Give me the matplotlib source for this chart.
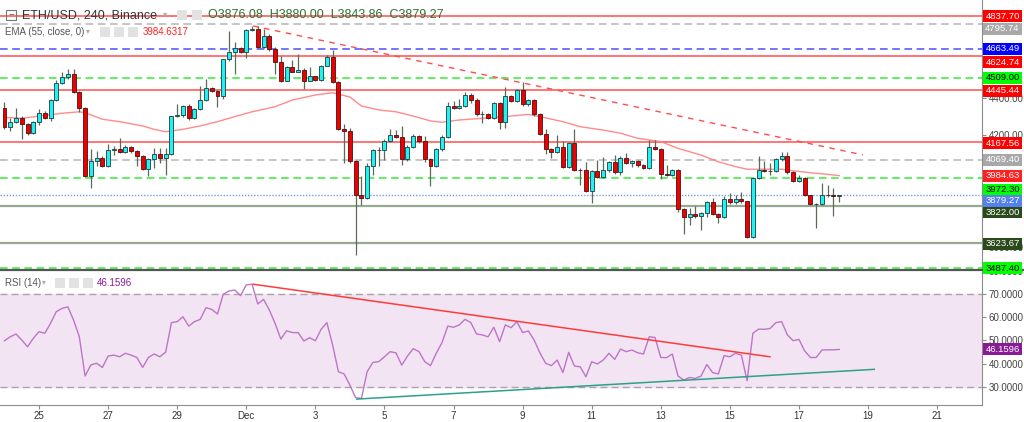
import numpy as np
import matplotlib
matplotlib.use('Agg')
import matplotlib.pyplot as plt
from matplotlib.patches import Rectangle
from matplotlib.lines import Line2D

plt.rcParams['font.family'] = ['Liberation Sans', 'DejaVu Sans']

# ETH/USD 4h candles, first candle opens Nov 24 00:00
first_open = 4344.8
close = [4247.7, 4272.9, 4296.3, 4260.3, 4215.3, 4272.9, 4317.9, 4296.3, 4391.6, 4479.8,
         4512.1, 4528.3, 4434.8, 4344.8, 3981.5, 4062.5, 4080.4, 4035.5, 4120.0, 4125.0,
         4111.0, 4138.0, 4116.0, 4089.0, 4021.0, 4071.5, 4098.5, 4080.0, 4102.0, 4301.7,
         4309.0, 4355.6, 4296.3, 4341.3, 4391.6, 4452.8, 4440.2, 4413.0, 4607.5, 4647.0,
         4668.6, 4647.0, 4767.5, 4769.3, 4674.0, 4733.4, 4665.0, 4593.0, 4494.0, 4566.0,
         4542.7, 4553.5, 4494.0, 4517.5, 4499.5, 4575.0, 4620.0, 4485.0, 4235.0, 4224.0,
         4062.5, 3882.6, 3864.7, 4039.0, 4122.0, 4122.0, 4170.4, 4201.0, 4193.8, 4071.5,
         4139.8, 4197.4, 4170.4, 4075.0, 4039.0, 4125.5, 4193.8, 4355.7, 4348.5, 4359.3,
         4416.8, 4391.7, 4314.3, 4314.3, 4296.3, 4373.7, 4273.0, 4409.6, 4386.3, 4443.8,
         4368.3, 4391.7, 4314.3, 4206.4, 4129.1, 4111.1, 4139.8, 4031.9, 4157.8, 4017.5,
         4014.0, 3900.6, 4008.5, 3978.0, 4014.0, 4057.1, 4003.1, 4080.5, 4053.5, 4062.5,
         4039.1, 4026.5, 4139.8, 4129.1, 3996.0, 3990.5, 4014.0, 3805.2, 3762.0, 3778.0,
         3769.2, 3783.6, 3841.2, 3780.0, 3765.6, 3859.2, 3841.2, 3859.2, 3846.6, 3654.1,
         3972.5, 4017.5, 4010.0, 4010.0, 4071.4, 4089.4, 4003.1, 3958.1, 3972.5, 3882.6,
         3834.0, 3834.0, 3882.6, 3880.0, 3876.08, 3879.27]
high = [4377, 4294, 4345, 4305, 4265, 4280, 4341, 4332, 4396, 4497,
        4539, 4557, 4557, 4440, 4350, 4125, 4116, 4090, 4155, 4143,
        4188, 4150, 4145, 4120, 4098, 4080, 4134, 4134, 4134, 4305,
        4368, 4362, 4368, 4348, 4467, 4503, 4458, 4445, 4612, 4759,
        4701, 4673, 4772, 4787, 4787, 4773, 4746, 4672, 4625, 4575,
        4602, 4638, 4560, 4566, 4521, 4580, 4629, 4656, 4490, 4260,
        4242, 4070, 3982, 4050, 4130, 4140, 4180, 4237, 4230, 4251,
        4148, 4206, 4205, 4197, 4080, 4135, 4200, 4381, 4386, 4395,
        4431, 4426, 4400, 4332, 4322, 4380, 4380, 4458, 4415, 4450,
        4489, 4398, 4395, 4320, 4233, 4135, 4201, 4170, 4165, 4233,
        4025, 4060, 4015, 4071, 4085, 4065, 4098, 4088, 4107, 4070,
        4068, 4045, 4176, 4176, 4135, 4040, 4020, 4020, 3810, 3811,
        3820, 3790, 3848, 3865, 3786, 3877, 3892, 3882, 3895, 3850,
        3978, 4089, 4062, 4053, 4078, 4111, 4111, 4010, 3990, 3978,
        3882, 3840, 3945, 3936, 3918, 3880.0]
low = [4233, 4224, 4265, 4179, 4205, 4206, 4255, 4288, 4278, 4385,
       4475, 4505, 4425, 4327, 3978, 3919, 4035, 4030, 4030, 4097,
       4105, 4105, 4105, 4035, 4015, 3981, 4026, 4053, 3990, 4098,
       4298, 4300, 4285, 4290, 4335, 4385, 4432, 4355, 4395, 4600,
       4530, 4640, 4614, 4760, 4668, 4670, 4655, 4530, 4488, 4490,
       4538, 4538, 4449, 4490, 4490, 4494, 4570, 4480, 4228, 4053,
       4055, 3559, 3829, 3860, 3990, 4039, 4071, 4165, 4188, 4040,
       4065, 4133, 4160, 4060, 3928, 4030, 4118, 4185, 4340, 4340,
       4350, 4375, 4305, 4269, 4288, 4290, 4235, 4242, 4378, 4380,
       4360, 4360, 4305, 4200, 4099, 4080, 4105, 4025, 4025, 4010,
       3936, 3895, 3838, 3970, 3970, 4005, 3995, 3990, 4045, 4030,
       4030, 4020, 4020, 4120, 3967, 3985, 3985, 3790, 3672, 3720,
       3760, 3694, 3762, 3772, 3730, 3760, 3835, 3835, 3840, 3650,
       3648, 3965, 4003, 3990, 4003, 4065, 3995, 3950, 3950, 3875,
       3828, 3703, 3828, 3870, 3769, 3843.86]

# EMA(55): (candle index, value)
ema_idx = [0, 3, 5, 10, 13, 14, 17, 20, 24, 26, 28, 31, 34, 37, 40, 43, 47, 50, 54, 57,
           60, 62, 65, 68, 71, 74, 76, 79, 83, 87, 91, 93, 97, 100, 104, 107, 110, 114,
           117, 121, 124, 127, 129, 132, 135, 137, 140, 143, 145]
ema_val = [4297, 4292, 4300, 4319, 4327, 4322, 4287, 4274, 4251, 4233, 4220, 4233, 4251,
           4274, 4301, 4327, 4354, 4390, 4417, 4429, 4406, 4358, 4337, 4327, 4304, 4278,
           4271, 4283, 4292, 4301, 4313, 4301, 4274, 4247, 4229, 4212, 4185, 4167, 4131,
           4095, 4059, 4033, 4019, 4019, 4019, 4011, 4000, 3992, 3984.63]

# RSI(14), one value per candle
rsi = [49.9, 51.6, 52.8, 50.2, 47.3, 50.9, 53.8, 53.1, 57.4, 62.4, 63.8, 64.5, 58.8, 51.6,
       34.7, 39.5, 40.2, 38.4, 43.3, 43.7, 43.0, 44.5, 43.7, 42.7, 38.4, 42.7, 44.2, 43.0,
       45.0, 57.7, 58.1, 60.2, 56.2, 58.1, 59.1, 64.1, 63.4, 61.4, 69.9, 71.3, 71.7, 69.3,
       73.9, 74.2, 65.7, 67.7, 63.1, 57.4, 50.6, 54.2, 53.4, 53.4, 49.8, 51.2, 49.9, 54.8,
       57.7, 48.1, 36.6, 35.6, 30.8, 25.4, 25.1, 36.6, 40.6, 40.9, 43.0, 45.2, 44.7, 39.4,
       43.3, 46.5, 45.2, 40.9, 39.2, 44.5, 49.1, 56.2, 55.7, 56.7, 59.1, 57.7, 52.8, 52.4,
       51.6, 55.7, 49.5, 56.7, 55.5, 58.1, 53.4, 54.1, 50.2, 44.7, 40.2, 39.2, 41.6, 36.2,
       44.9, 39.0, 38.7, 34.4, 40.9, 39.9, 41.6, 44.5, 41.9, 46.3, 45.2, 45.9, 44.7, 44.2,
       51.6, 51.3, 42.7, 42.6, 44.2, 34.7, 33.0, 34.1, 33.7, 34.7, 39.7, 36.2, 35.6, 43.5,
       43.0, 44.5, 43.7, 32.7, 53.1, 54.9, 54.8, 55.2, 57.7, 58.1, 52.4, 49.9, 50.5, 45.5,
       42.7, 42.7, 45.9, 46.0, 46.0, 46.16]

# horizontal levels
red_levels = [4837.70, 4624.74, 4445.44, 4167.56]
grey_levels = [4795.74, 4069.40]
blue_levels = [4663.49]
green_levels = [4509.00, 3972.30, 3487.40]
support_levels = [3822.00, 3623.67]
last_price = 3879.27
ema_last = 3984.6317
rsi_last = 46.1596

# drawn trend lines (days from Nov 25, value)
price_trend = [(6.2, 4787.0), (23.85, 4096.0)]
rsi_trend_hi = [(6.2, 74.2), (21.16, 43.0)]
rsi_trend_lo = [(9.2, 24.8), (24.18, 37.6)]

day_ticks = list(range(0, 27, 2))
day_labels = ['25', '27', '29', 'Dec', '3', '5', '7', '9', '11', '13', '15', '17', '19', '21']

# ---------------------------------------------------------------
W, H = 1024, 422
fig = plt.figure(figsize=(W / 100, H / 100), dpi=100)
fig.patch.set_facecolor('white')

def fx(x):
    return x / W

def fy(y):
    return 1 - y / H

ax = fig.add_axes([0, fy(269), fx(982), 269 / H])
ax2 = fig.add_axes([0, fy(405), fx(982), (405 - 270) / H], sharex=ax)

n = len(close)
opens = np.array([first_open] + close[:-1])
closes = np.array(close)
t = -1 + np.arange(n) / 6.0   # days from Nov 25 00:00

up = closes >= opens
body_lo = np.minimum(opens, closes)
body_h = np.abs(closes - opens)

ax.vlines(t, low, high, color='#5b6b5b', lw=0.9, zorder=3)
ax.bar(t[up], body_h[up], bottom=body_lo[up], width=0.115, color='#1ff2f2',
       edgecolor='#1f3b3b', lw=0.6, zorder=4)
ax.bar(t[~up], body_h[~up], bottom=body_lo[~up], width=0.115, color='#ee0000',
       edgecolor='#4a1010', lw=0.6, zorder=4)

ax.plot(-1 + np.array(ema_idx) / 6.0, ema_val, color='#ff7f7f', lw=1.0, alpha=0.9, zorder=2)

for v in red_levels:
    ax.axhline(v, color='#ff5050', lw=1.1, zorder=1)
for v in grey_levels:
    ax.axhline(v, color='#b5b5b5', lw=1.1, ls=(0, (5, 3)), zorder=1)
for v in blue_levels:
    ax.axhline(v, color='#4d4dff', lw=1.1, ls=(0, (5, 3)), zorder=1)
for v in green_levels:
    ax.axhline(v, color='#33ee33', lw=1.1, ls=(0, (5, 3)), zorder=1)
for v in support_levels:
    ax.axhline(v, color='#97a893', lw=1.6, zorder=1)
ax.axhline(last_price, color='#7b9ae8', lw=1.0, ls=(0, (1, 1.2)), zorder=1)

(x0, y0), (x1, y1) = price_trend
ax.plot([x0, x1], [y0, y1], color='#ff4d4d', lw=1.0, ls=(0, (4, 4)), zorder=2)

ax.set_xlim(-1.13, 27.3)
ax.set_ylim(3484.3, 4926.1)
# ticks hidden behind the level tags in the original are left out
ax.set_yticks([3600, 4200, 4400])
ax.yaxis.set_major_formatter(plt.FormatStrFormatter('%.2f'))

# RSI panel
ax2.axhspan(30, 70, color='#f2e4f2', zorder=0)
ax2.axhline(70, color='#aaa3ad', lw=1.0, ls=(0, (5, 3)), zorder=1)
ax2.axhline(30, color='#aaa3ad', lw=1.0, ls=(0, (5, 3)), zorder=1)
ax2.plot(t, rsi, color='#be75c8', lw=1.0, zorder=3)
(x0, y0), (x1, y1) = rsi_trend_hi
ax2.plot([x0, x1], [y0, y1], color='#ff3b3b', lw=1.1, zorder=4)
(x0, y0), (x1, y1) = rsi_trend_lo
ax2.plot([x0, x1], [y0, y1], color='#2fa08a', lw=1.1, zorder=4)
ax2.set_ylim(22.26, 80.32)
ax2.set_yticks([30, 40, 50, 60, 70, 80])
ax2.yaxis.set_major_formatter(plt.FormatStrFormatter('%.4f'))
ax2.set_xticks(day_ticks)
ax2.set_xticklabels(day_labels)

for a in (ax, ax2):
    a.set_facecolor('white')
    for s in ('left', 'top', 'bottom'):
        a.spines[s].set_visible(False)
    a.spines['right'].set_color('#8c8c8c')
    a.yaxis.tick_right()
    a.tick_params(axis='y', colors='#8c8c8c', labelcolor='#444444', labelsize=7,
                  length=3, pad=2)
ax.tick_params(axis='x', bottom=False, labelbottom=False)
ax2.spines['bottom'].set_visible(True)
ax2.spines['bottom'].set_color('#8c8c8c')
ax2.tick_params(axis='x', colors='#8c8c8c', labelcolor='#333333', labelsize=7, length=3, pad=1.5)

# separator between panes
fig.add_artist(Line2D([0, 1], [fy(269.5), fy(269.5)], color='#555555', lw=1.6))

# level tags on the price scale (fixed-size boxes like the original)
def tag(axis, value, text, bg, fg='white', shift=0.0):
    y_disp = axis.transData.transform((0, value))[1] - shift
    yc = y_disp / H
    fig.add_artist(Rectangle((fx(983), yc - 6 / H), 39 / W, 12 / H, fc=bg, ec='none',
                             zorder=9))
    fig.text(fx(1002.5), yc, text, fontsize=6.8, color=fg, va='center', ha='center',
             zorder=10)

shift = {4795.74: 4.3, 4624.74: 6, 4445.44: 1.3, 4167.56: 1.5, 3972.30: 11.6,
         3822.00: 6.3, 3623.67: 1}
for v in red_levels:
    tag(ax, v, '%.2f' % v, '#ff0000', shift=shift.get(v, 0))
for v in grey_levels:
    tag(ax, v, '%.2f' % v, '#a8a8a8', shift=shift.get(v, 0))
for v in blue_levels:
    tag(ax, v, '%.2f' % v, '#0000ff')
for v in green_levels:
    tag(ax, v, '%.2f' % v, '#00ff00', fg='black', shift=shift.get(v, 0))
for v in support_levels:
    tag(ax, v, '%.2f' % v, '#2a4a1a', shift=shift.get(v, 0))
tag(ax, ema_last, '%.2f' % ema_last, '#ff2020')
tag(ax, last_price, '%.2f' % last_price, '#5580f0', shift=5.5)
tag(ax2, rsi_last, '%.4f' % rsi_last, '#8a1b96')

# legend rows
def icons(x, y, n, w=10, gap=4):
    for k in range(n):
        fig.add_artist(Rectangle((fx(x + k * (w + gap)), fy(y + 5)), w / W, 10 / H,
                                 fc='#e2e2e2', ec='none'))

fig.add_artist(Rectangle((fx(6), fy(20)), 10 / W, 10 / H, fc='none', ec='#777777', lw=0.8))
fig.text(fx(11), fy(15), '\u2212', fontsize=7, color='#555555', ha='center', va='center')
fig.text(fx(22), fy(15), 'ETH/USD, 240, Binance', fontsize=9, color='#333333', va='center')
fig.text(fx(163), fy(15), '\u25be', fontsize=6, color='#aaaaaa', va='center')
icons(177, 15, 2, w=10, gap=5)
fig.text(fx(208), fy(15), 'O3876.08  H3880.00  L3843.86  C3879.27', fontsize=9,
         color='#2e7031', va='center')

fig.text(fx(5), fy(32), 'EMA (55, close, 0)', fontsize=7, color='#555555', va='center')
fig.text(fx(86), fy(32), '\u25be', fontsize=5.5, color='#aaaaaa', va='center')
icons(100, 32, 3, w=10, gap=4)
fig.text(fx(143), fy(32), '%.4f' % ema_last, fontsize=7, color='#ff2020', va='center')

fig.text(fx(5), fy(283), 'RSI (14)', fontsize=7, color='#555555', va='center')
fig.text(fx(42), fy(283), '\u25be', fontsize=5.5, color='#aaaaaa', va='center')
icons(55, 283, 3, w=10, gap=4)
fig.text(fx(97), fy(283), '%.4f' % rsi_last, fontsize=7, color='#8a1b96', va='center')

fig.savefig('out.png', dpi=100)
